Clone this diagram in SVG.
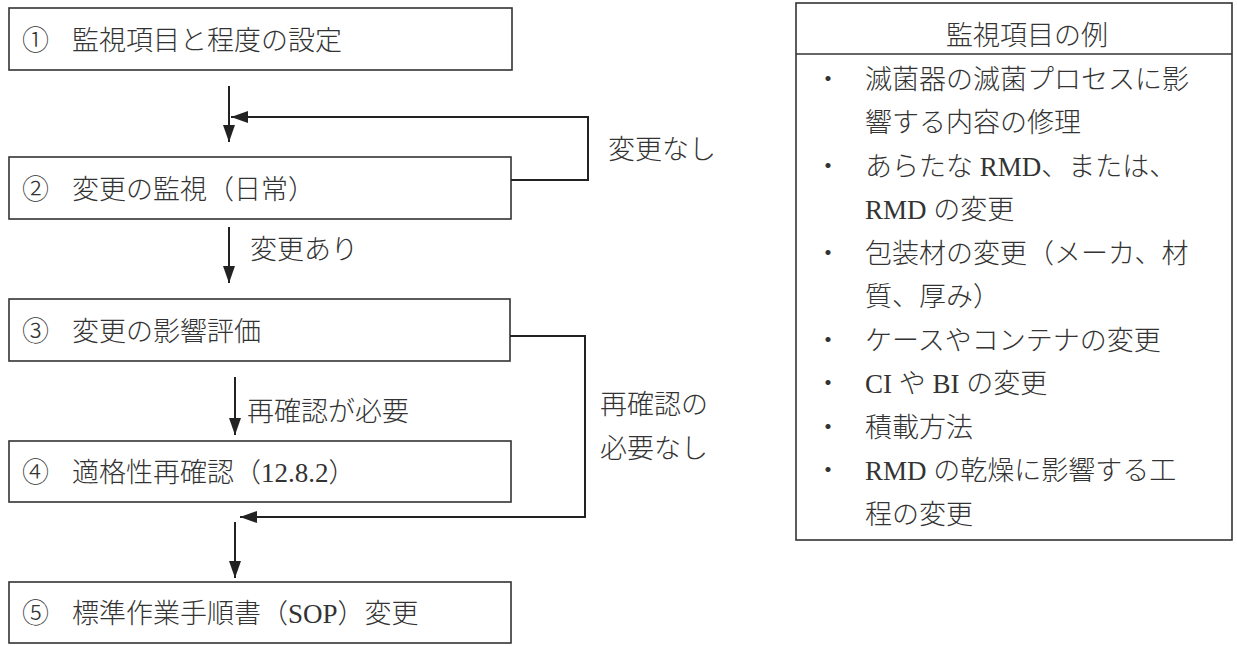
<svg xmlns="http://www.w3.org/2000/svg" width="1237" height="646" viewBox="0 0 1237 646">
<style>
.box{fill:#fff;stroke:#333;stroke-width:1.6}
.t{font-family:'Liberation Serif','Noto Sans CJK JP',serif;font-size:27px;font-weight:300;fill:#333;dominant-baseline:central}
.c{fill:none;stroke:#222;stroke-width:2}
</style>
<defs>
<marker id="ah" markerUnits="userSpaceOnUse" markerWidth="17" markerHeight="12" refX="17" refY="6" orient="auto">
<path d="M0,0 L17,6 L0,12 z" fill="#222"/>
</marker>
</defs>
<rect width="1237" height="646" fill="#fff"/>
<g id="n1">
<rect class="box" x="9" y="8" width="503" height="62"/>
<text class="t" y="41"><tspan x="22">①</tspan><tspan x="72">監視項目と程度の設定</tspan></text>
</g>
<g id="n2">
<rect class="box" x="9" y="157" width="502" height="62"/>
<text class="t" y="190"><tspan x="22">②</tspan><tspan x="72">変更の監視（日常）</tspan></text>
</g>
<g id="n3">
<rect class="box" x="9" y="299" width="501" height="62"/>
<text class="t" y="332"><tspan x="22">③</tspan><tspan x="72">変更の影響評価</tspan></text>
</g>
<g id="n4">
<rect class="box" x="9" y="441" width="502" height="61"/>
<text class="t" y="473"><tspan x="22">④</tspan><tspan x="72">適格性再確認（12.8.2）</tspan></text>
</g>
<g id="n5">
<rect class="box" x="9" y="582" width="502" height="61"/>
<text class="t" y="614"><tspan x="22">⑤</tspan><tspan x="72">標準作業手順書（SOP）変更</tspan></text>
</g>
<g id="examples">
<rect class="box" x="796" y="3" width="436" height="537"/>
<line x1="796" y1="54" x2="1232" y2="54" stroke="#333" stroke-width="1.6"/>
<text class="t" x="1027" y="36" text-anchor="middle">監視項目の例</text>
<text class="t" x="828" y="80" text-anchor="middle">・</text>
<text class="t" x="865" y="80">滅菌器の滅菌プロセスに影</text>
<text class="t" x="865" y="123">響する内容の修理</text>
<text class="t" x="828" y="167" text-anchor="middle">・</text>
<text class="t" x="865" y="167">あらたな RMD、または、</text>
<text class="t" x="865" y="210">RMD の変更</text>
<text class="t" x="828" y="254" text-anchor="middle">・</text>
<text class="t" x="865" y="254">包装材の変更（メーカ、材</text>
<text class="t" x="865" y="297">質、厚み）</text>
<text class="t" x="828" y="341" text-anchor="middle">・</text>
<text class="t" x="865" y="341">ケースやコンテナの変更</text>
<text class="t" x="828" y="384" text-anchor="middle">・</text>
<text class="t" x="865" y="384">CI や BI の変更</text>
<text class="t" x="828" y="428" text-anchor="middle">・</text>
<text class="t" x="865" y="428">積載方法</text>
<text class="t" x="828" y="471" text-anchor="middle">・</text>
<text class="t" x="865" y="471">RMD の乾燥に影響する工</text>
<text class="t" x="865" y="515">程の変更</text>
</g>
<g id="connectors">
<line class="c" x1="229" y1="86" x2="229" y2="142" marker-end="url(#ah)"/>
<polyline class="c" points="511,180 588,180 588,117 231,117" marker-end="url(#ah)"/>
<line class="c" x1="229" y1="227" x2="229" y2="283" marker-end="url(#ah)"/>
<line class="c" x1="235" y1="377" x2="235" y2="435" marker-end="url(#ah)"/>
<polyline class="c" points="510,336 585,336 585,517 240,517" marker-end="url(#ah)"/>
<line class="c" x1="235" y1="522" x2="235" y2="578" marker-end="url(#ah)"/>
</g>
<g id="labels">
<text class="t" x="250" y="250">変更あり</text>
<text class="t" x="247" y="412">再確認が必要</text>
<text class="t" x="608" y="150">変更なし</text>
<text class="t" x="600" y="405">再確認の</text>
<text class="t" x="600" y="449">必要なし</text>
</g>
</svg>
